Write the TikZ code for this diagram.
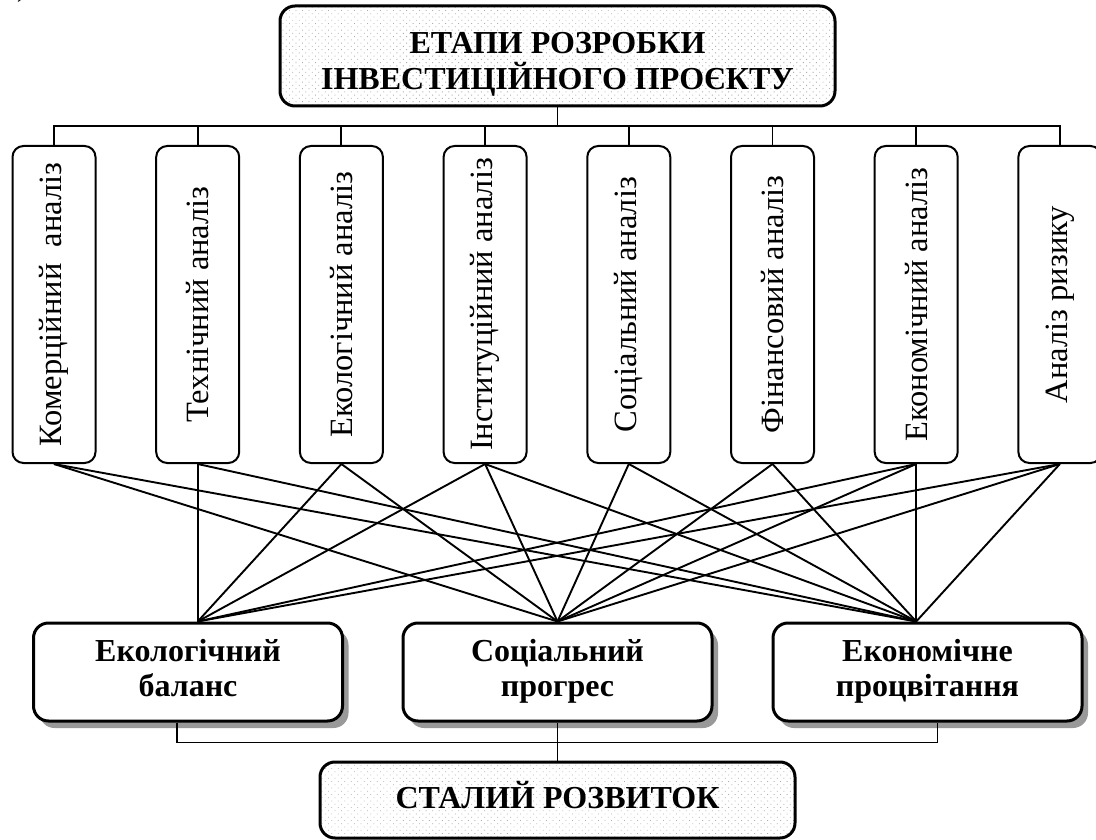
\documentclass[tikz,border=0pt]{standalone}
\usepackage{fontspec}
\usepackage{graphicx}
\setmainfont{Liberation Serif}
\usetikzlibrary{calc,shadows,patterns.meta}
\begin{document}
\begin{tikzpicture}[x=1pt,y=-1pt,
  vbox/.style={draw, line width=2pt, rounded corners=11pt, minimum width=83pt, minimum height=317pt, inner sep=0pt, font=\fontsize{32.5}{34}\selectfont},
  bigbox/.style={draw, line width=3pt, rounded corners=15pt, align=center, inner sep=0pt, font=\bfseries\fontsize{32}{35}\selectfont},
  dotted fill/.style={pattern={Dots[distance=4.6pt, angle=45, radius=0.6pt]}, pattern color=black!32},
  shadowed/.style={fill=white, drop shadow={shadow xshift=6pt, shadow yshift=-7pt, fill=black!40, opacity=1}},
  link/.style={line width=1.9pt},
  tree/.style={line width=1.9pt}
]
\useasboundingbox (0,0) rectangle (1096,840);

% cut-off label at the top left
\node[anchor=base west, inner sep=0pt, font=\fontsize{28}{30}\selectfont] (lbl) at (17,-3) {)};

% top box
\node[bigbox, dotted fill, minimum width=555pt, minimum height=100pt, font=\bfseries\fontsize{32}{36}\selectfont] (top) at (557.5,56)
  {\rule{0pt}{41pt}ЕТАПИ РОЗРОБКИ\\ІНВЕСТИЦІЙНОГО ПРОЄКТУ\strut};

% analysis boxes
\node[vbox] (b1) at (54,304.5)     {\rotatebox{90}{Комерційний\ \ аналіз}};
\node[vbox] (b2) at (197.7,304.5)  {\rotatebox{90}{Технічний аналіз}};
\node[vbox] (b3) at (341.4,304.5)  {\rotatebox{90}{Екологічний аналіз}};
\node[vbox] (b4) at (485.1,304.5)  {\rotatebox{90}{Інституційний аналіз}};
\node[vbox] (b5) at (628.8,304.5)  {\rotatebox{90}{Соціальний аналіз}};
\node[vbox] (b6) at (772.5,304.5)  {\rotatebox{90}{Фінансовий аналіз}};
\node[vbox] (b7) at (916.2,304.5)  {\rotatebox{90}{Економічний аналіз}};
\node[vbox] (b8) at (1059.9,304.5) {\rotatebox{90}{Аналіз ризику}};

% outcome boxes
\node[bigbox, shadowed, minimum width=309pt, minimum height=98pt] (eco)  at (188,672)   {Екологічний\strut\\баланс\strut};
\node[bigbox, shadowed, minimum width=309pt, minimum height=98pt] (soc)  at (557.5,672) {Соціальний\strut\\прогрес\strut};
\node[bigbox, shadowed, minimum width=309pt, minimum height=98pt] (econ) at (927.5,672) {Економічне\strut\\процвітання\strut};

% final box
\node[bigbox, dotted fill, minimum width=475pt, minimum height=76pt] (fin) at (557.5,800) {СТАЛИЙ РОЗВИТОК\strut};

% top tree
\coordinate (bus) at (0,126);
\draw[tree] (b1.north) -- (b1.north |- bus) -- (b8.north |- bus) -- (b8.north);
\foreach \b in {b2,b3,b4,b5,b6,b7} \draw[tree] (\b.north) -- (\b.north |- bus);
\draw[tree] (top.south) -- (top.south |- bus);

% apexes on the outcome boxes
\coordinate (ecoT) at (b2.south |- eco.north);
\coordinate (socT) at (soc.north);
\coordinate (econT) at (b7.south |- econ.north);

% links
\foreach \b/\t in {b1/socT, b1/econT,
                   b2/ecoT, b2/econT,
                   b3/ecoT, b3/socT,
                   b4/ecoT, b4/socT, b4/econT,
                   b5/socT, b5/econT,
                   b6/socT, b6/econT,
                   b7/ecoT, b7/socT, b7/econT,
                   b8/ecoT, b8/socT, b8/econT}
  \draw[link] (\b.south) -- (\t);

% bottom tree
\draw[tree] ($(eco.south)+(-11,0)$) -- ++(0,20) -| ($(econ.south)+(10,0)$);
\draw[tree] (soc.south) -- (fin.north);
\end{tikzpicture}
\end{document}
